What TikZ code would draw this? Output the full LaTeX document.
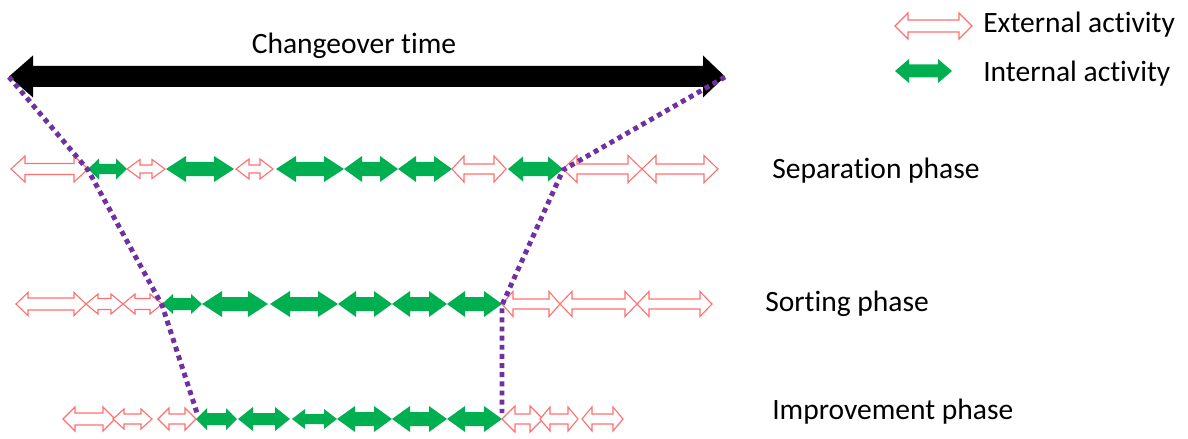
\documentclass[tikz,border=0pt]{standalone}
\usepackage{fontspec}
\setmainfont{Carlito}[Ligatures=NoCommon]
\definecolor{extred}{RGB}{255,112,112}
\definecolor{intgreen}{RGB}{0,176,80}
\definecolor{spanpurple}{RGB}{112,48,160}

\begin{document}
\begin{tikzpicture}[x=0.025cm, y=-0.025cm,
  ext/.style={draw=extred, fill=white, line width=0.8pt, line join=miter},
  int/.style={fill=intgreen},
  span/.style={spanpurple, line width=3.5pt, dash pattern=on 3.5pt off 3pt},
  lbl/.style={font=\fontsize{21}{25}\selectfont, anchor=base west, inner sep=0pt}]
\useasboundingbox (0,0) rectangle (1188,439);
% ---------- the changeover time ----------
\fill[black] (9,76.5) -- (33,55.5) -- (33,66) -- (703,66) -- (703,55.5) -- (725,76.5)
  -- (703,97.5) -- (703,87) -- (33,87) -- (33,97.5) -- cycle;
\node[lbl, anchor=base] (title) at (354,54) {Changeover time};
% ---------- separation phase ----------
\def\y{169}
\foreach \a/\b/\H/\w/\L/\k in {11/88/13/5.5/14/ext, 88/127/10.5/5/11/int, 127/165/9.5/4/13/ext,
    166/234/13/7/20/int, 236/273/10/4/13/ext, 276/344/13/7/20/int, 344/398/13/7/18/int,
    398/452/13/7/18/int, 452/506/13/5/12/ext, 508/563/12.5/7/15/int, 563/642/13.5/5/14/ext,
    642/718/13.5/5/14/ext} {
  \path[\k] (\a,\y) -- ({\a+\L},{\y-\H}) -- ({\a+\L},{\y-\w}) -- ({\b-\L},{\y-\w}) -- ({\b-\L},{\y-\H})
    -- (\b,\y) -- ({\b-\L},{\y+\H}) -- ({\b-\L},{\y+\w}) -- ({\a+\L},{\y+\w}) -- ({\a+\L},{\y+\H}) -- cycle;
}
\node[lbl] (sep) at (772,179) {Separation phase};
% ---------- sorting phase ----------
\def\y{304}
\foreach \a/\b/\H/\w/\L/\k in {16/86/11.5/6/12/ext, 86/123/10/5.5/12/ext, 123/162/10/5.5/12/ext,
    162/202/10/6/11/int, 202/268/13/7/20/int, 270/338/13/7/20/int, 338/392/13/7/18/int,
    392/447/13/7/18/int, 447/502/13/7/18/int, 502/560/12.5/5/11/ext, 560/637/12.5/5/12/ext,
    637/712/12.5/5/12/ext} {
  \path[\k] (\a,\y) -- ({\a+\L},{\y-\H}) -- ({\a+\L},{\y-\w}) -- ({\b-\L},{\y-\w}) -- ({\b-\L},{\y-\H})
    -- (\b,\y) -- ({\b-\L},{\y+\H}) -- ({\b-\L},{\y+\w}) -- ({\a+\L},{\y+\w}) -- ({\a+\L},{\y+\H}) -- cycle;
}
\node[lbl] (sort) at (765,311) {Sorting phase};
% ---------- improvement phase ----------
\def\y{419}
\foreach \a/\b/\H/\w/\L/\k in {63/115/12/6/12/ext, 113/152/10/5/11/ext, 158/196/11/5/11/ext,
    196/237/11/6/11/int, 238/290/12/6/15/int, 292/337/10/5/13/int, 337/392/13/7/18/int,
    392/447/13/7/18/int, 447/502/13/7/18/int, 502/543/13/5/13/ext, 540/578/12/5/10/ext,
    582/623/12/5/10/ext} {
  \path[\k] (\a,\y) -- ({\a+\L},{\y-\H}) -- ({\a+\L},{\y-\w}) -- ({\b-\L},{\y-\w}) -- ({\b-\L},{\y-\H})
    -- (\b,\y) -- ({\b-\L},{\y+\H}) -- ({\b-\L},{\y+\w}) -- ({\a+\L},{\y+\w}) -- ({\a+\L},{\y+\H}) -- cycle;
}
\node[lbl] (impr) at (772,419) {Improvement phase};
% ---------- legend ----------
\path[ext] (895,26) -- (908,13) -- (908,20) -- (959,20) -- (959,13) -- (972,26) -- (959,39) -- (959,32)
  -- (908,32) -- (908,39) -- cycle;
\node[lbl] (extlbl) at (983,33) {External activity};
\path[int] (895,71) -- (909,59) -- (909,64.5) -- (938,64.5) -- (938,59) -- (952,71) -- (938,83) -- (938,77.5)
  -- (909,77.5) -- (909,83) -- cycle;
\node[lbl] (intlbl) at (983,82) {Internal activity};
% ---------- the narrowing span ----------
\coordinate (l0) at (9,77);
\coordinate (l1) at (88,170);
\coordinate (l2) at (162,305);
\coordinate (l3) at (197,413);
\coordinate (r0) at (725,77);
\coordinate (r1) at (563,170);
\coordinate (r2) at (502,305);
\coordinate (r3) at (502,413);
\draw[span] (l0) -- (l1) -- (l2) -- (l3);
\draw[span] (r0) -- (r1) -- (r2) -- (r3);
\end{tikzpicture}
\end{document}
